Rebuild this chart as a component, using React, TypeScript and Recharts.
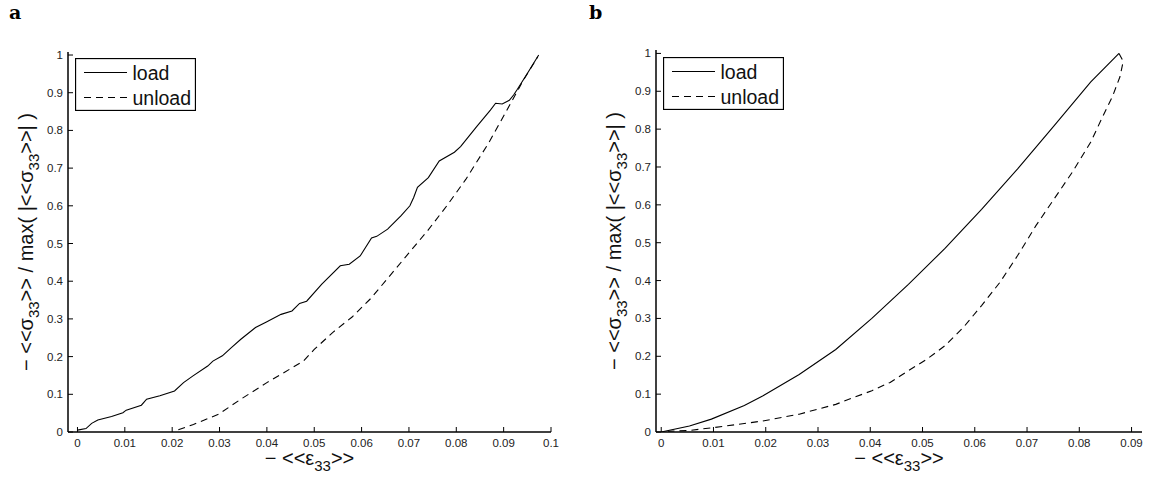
import React from 'react'
import { LineChart, Line, XAxis, YAxis, Legend, Label } from 'recharts'

const FONT = '"Liberation Sans", Arial, Helvetica, sans-serif'

const xTicksA = [0, 0.01, 0.02, 0.03, 0.04, 0.05, 0.06, 0.07, 0.08, 0.09, 0.1]
const xTicksB = [0, 0.01, 0.02, 0.03, 0.04, 0.05, 0.06, 0.07, 0.08, 0.09]
const yTicks = [0, 0.1, 0.2, 0.3, 0.4, 0.5, 0.6, 0.7, 0.8, 0.9, 1]

// panel a (simulation, noisy)
const loadAStrain = [0, 0.0018, 0.003, 0.0043, 0.0072, 0.0096, 0.0103, 0.0135, 0.0146, 0.0174, 0.0205, 0.0224, 0.0244, 0.0275, 0.0286, 0.0306, 0.0325, 0.0345, 0.0376, 0.0399, 0.043, 0.0453, 0.0469, 0.0484, 0.0516, 0.0555, 0.0574, 0.0597, 0.0621, 0.0632, 0.0655, 0.0683, 0.0702, 0.071, 0.0718, 0.0741, 0.0764, 0.0796, 0.0809, 0.0843, 0.0872, 0.0883, 0.0897, 0.0912, 0.0921, 0.0929, 0.095, 0.0974]
const loadAStress = [0.005, 0.009, 0.023, 0.032, 0.041, 0.051, 0.058, 0.071, 0.087, 0.096, 0.109, 0.131, 0.149, 0.175, 0.188, 0.202, 0.224, 0.246, 0.277, 0.292, 0.312, 0.321, 0.341, 0.347, 0.392, 0.441, 0.445, 0.467, 0.515, 0.519, 0.538, 0.573, 0.6, 0.622, 0.649, 0.675, 0.719, 0.742, 0.757, 0.81, 0.854, 0.872, 0.87, 0.88, 0.894, 0.909, 0.951, 1.0]
const unloadAStrain = [0.0213, 0.0245, 0.0298, 0.0345, 0.04, 0.0477, 0.05, 0.054, 0.058, 0.062, 0.066, 0.07, 0.074, 0.078, 0.082, 0.0868, 0.0907, 0.0942, 0.0972]
const unloadAStress = [0.006, 0.02, 0.047, 0.087, 0.131, 0.188, 0.219, 0.265, 0.305, 0.355, 0.415, 0.475, 0.535, 0.6, 0.67, 0.766, 0.854, 0.934, 0.995]

// panel b (model, smooth)
const loadBStrain = [0, 0.0054, 0.0096, 0.0159, 0.0194, 0.0264, 0.0334, 0.0403, 0.0473, 0.0543, 0.0613, 0.0682, 0.0752, 0.0822, 0.0876]
const loadBStress = [0, 0.016, 0.034, 0.07, 0.095, 0.152, 0.218, 0.3, 0.39, 0.485, 0.588, 0.695, 0.809, 0.925, 1.0]
const unloadBStrain = [0.0876, 0.0884, 0.0878, 0.0864, 0.0843, 0.0822, 0.0787, 0.0752, 0.0717, 0.0682, 0.0648, 0.0613, 0.0578, 0.0543, 0.0508, 0.0473, 0.0438, 0.0403, 0.0368, 0.0334, 0.0299, 0.0264, 0.0194, 0.0124, 0.0096, 0.0054, 0.0013]
const unloadBStress = [1.0, 0.979, 0.939, 0.888, 0.828, 0.766, 0.687, 0.616, 0.545, 0.466, 0.395, 0.334, 0.276, 0.228, 0.192, 0.162, 0.131, 0.109, 0.091, 0.073, 0.06, 0.047, 0.029, 0.016, 0.011, 0.004, 0.002]

const toPoints = (xs: number[], ys: number[]) => xs.map((x, i) => ({ x, y: ys[i] }))

const fmt = (v: number) => String(parseFloat(v.toFixed(3)))

const TICK_LEN = 5
const AXIS_W = 1.5

function BottomTick({ x, y, payload }: any) {
    return (
        <g>
            <line x1={x} y1={y} x2={x} y2={y - TICK_LEN} stroke="#000" strokeWidth={1} />
            <text x={x} y={y + 15} textAnchor="middle" fontSize={11.5} fontFamily={FONT} fill="#222">
                {fmt(payload.value)}
            </text>
        </g>
    )
}

function LeftTick({ x, y, payload }: any) {
    return (
        <g>
            <line x1={x} y1={y} x2={x + TICK_LEN} y2={y} stroke="#000" strokeWidth={1} />
            <text x={x - 5} y={y + 4} textAnchor="end" fontSize={11.5} fontFamily={FONT} fill="#222">
                {fmt(payload.value)}
            </text>
        </g>
    )
}

function TopTick({ x, y }: any) {
    return <line x1={x} y1={y} x2={x} y2={y + TICK_LEN} stroke="#000" strokeWidth={1} />
}

function RightTick({ x, y }: any) {
    return <line x1={x} y1={y} x2={x - TICK_LEN} y2={y} stroke="#000" strokeWidth={1} />
}

function XTitle({ viewBox }: any) {
    const cx = viewBox.x + viewBox.width / 2
    const by = viewBox.y + 33
    return (
        <text x={cx} y={by} textAnchor="middle" fontSize={20} fontFamily={FONT} fill="#111">
            <tspan>− &lt;&lt;ε</tspan>
            <tspan dy={6} fontSize={15}>33</tspan>
            <tspan dy={-6}>&gt;&gt;</tspan>
        </text>
    )
}

function YTitle({ viewBox }: any) {
    const cx = viewBox.x + viewBox.width - 35
    const cy = viewBox.y + viewBox.height / 2
    return (
        <text x={cx} y={cy} transform={`rotate(-90, ${cx}, ${cy})`} textAnchor="middle" fontSize={20} fontFamily={FONT} fill="#111">
            <tspan>− &lt;&lt;σ</tspan>
            <tspan dy={6} fontSize={15}>33</tspan>
            <tspan dy={-6}>&gt;&gt; / max( |&lt;&lt;σ</tspan>
            <tspan dy={6} fontSize={15}>33</tspan>
            <tspan dy={-6}>&gt;&gt;| )</tspan>
        </text>
    )
}

function BoxLegend({ payload }: any) {
    const items = payload || []
    return (
        <svg width={121} height={53} style={{ display: 'block' }}>
            <rect x={0.5} y={0.5} width={120} height={52} fill="#fff" stroke="#000" strokeWidth={1.3} />
            {items.map((entry: any, i: number) => {
                const cy = 14.5 + i * 25
                const dash = entry.payload?.strokeDasharray
                return (
                    <g key={entry.value}>
                        <line x1={9} y1={cy} x2={52} y2={cy} stroke="#000" strokeWidth={1} strokeDasharray={dash} />
                        <text x={57.5} y={cy + 7} fontSize={19.5} fontFamily={FONT} fill="#111">
                            {entry.value}
                        </text>
                    </g>
                )
            })}
        </svg>
    )
}

interface PanelProps {
    letter: string
    left: number
    width: number
    margin: { top: number; right: number; bottom: number; left: number }
    xDomain: [number, number]
    yDomain: [number, number]
    xTicks: number[]
    load: { x: number; y: number }[]
    unload: { x: number; y: number }[]
    legendPos: { left: number; top: number }
}

function Panel({ letter, left, width, margin, xDomain, yDomain, xTicks, load, unload, legendPos }: PanelProps) {
    return (
        <div style={{ position: 'absolute', left, top: 0, width, height: 477 }}>
            <div
                style={{
                    position: 'absolute',
                    left: 9,
                    top: 3,
                    fontFamily: '"DejaVu Serif", "Liberation Serif", serif',
                    fontWeight: 'bold',
                    fontSize: 19,
                    lineHeight: '19px',
                }}
            >
                {letter}
            </div>
            <LineChart width={width} height={477} margin={margin}>
                <XAxis
                    xAxisId="b"
                    type="number"
                    dataKey="x"
                    domain={xDomain}
                    ticks={xTicks}
                    interval={0}
                    allowDataOverflow
                    height={40}
                    tickSize={0}
                    tickMargin={0}
                    tick={<BottomTick />}
                    axisLine={{ stroke: '#000', strokeWidth: AXIS_W }}
                >
                    <Label content={<XTitle />} />
                </XAxis>
                <XAxis
                    xAxisId="t"
                    orientation="top"
                    type="number"
                    dataKey="x"
                    domain={xDomain}
                    ticks={xTicks}
                    interval={0}
                    allowDataOverflow
                    height={0}
                    tickSize={0}
                    tickMargin={0}
                    tick={<TopTick />}
                    axisLine={{ stroke: '#000', strokeWidth: AXIS_W }}
                />
                <YAxis
                    yAxisId="l"
                    type="number"
                    domain={yDomain}
                    ticks={yTicks}
                    interval={0}
                    allowDataOverflow
                    width={50}
                    tickSize={0}
                    tickMargin={0}
                    tick={<LeftTick />}
                    axisLine={{ stroke: '#000', strokeWidth: AXIS_W }}
                >
                    <Label content={<YTitle />} />
                </YAxis>
                <YAxis
                    yAxisId="r"
                    orientation="right"
                    type="number"
                    domain={yDomain}
                    ticks={yTicks}
                    interval={0}
                    allowDataOverflow
                    width={0}
                    tickSize={0}
                    tickMargin={0}
                    tick={<RightTick />}
                    axisLine={{ stroke: '#000', strokeWidth: AXIS_W }}
                />
                <Legend
                    content={<BoxLegend />}
                    layout="horizontal"
                    verticalAlign="middle"
                    align="center"
                    wrapperStyle={{ left: legendPos.left, top: legendPos.top, width: 121, height: 53 }}
                />
                <Line
                    xAxisId="b"
                    yAxisId="l"
                    data={load}
                    dataKey="y"
                    name="load"
                    type="linear"
                    stroke="#000"
                    strokeWidth={1.1}
                    dot={false}
                    activeDot={false}
                    isAnimationActive={false}
                />
                <Line
                    xAxisId="b"
                    yAxisId="l"
                    data={unload}
                    dataKey="y"
                    name="unload"
                    type="linear"
                    stroke="#000"
                    strokeWidth={1.1}
                    strokeDasharray="7 5"
                    dot={false}
                    activeDot={false}
                    isAnimationActive={false}
                />
            </LineChart>
        </div>
    )
}

export default function App() {
    return (
        <div style={{ position: 'absolute', left: 0, top: 0, width: 1155, height: 477, background: '#fff' }}>
            <Panel
                letter="a"
                left={0}
                width={580}
                margin={{ top: 52, right: 29, bottom: 5, left: 18 }}
                xDomain={[-0.002, 0.1]}
                yDomain={[0, 1.008]}
                xTicks={xTicksA}
                load={toPoints(loadAStrain, loadAStress)}
                unload={toPoints(unloadAStrain, unloadAStress)}
                legendPos={{ left: 75, top: 58 }}
            />
            <Panel
                letter="b"
                left={580}
                width={575}
                margin={{ top: 50, right: 13, bottom: 5, left: 26 }}
                xDomain={[-0.001, 0.092]}
                yDomain={[0, 1.009]}
                xTicks={xTicksB}
                load={toPoints(loadBStrain, loadBStress)}
                unload={toPoints(unloadBStrain, unloadBStress)}
                legendPos={{ left: 83, top: 57 }}
            />
        </div>
    )
}
